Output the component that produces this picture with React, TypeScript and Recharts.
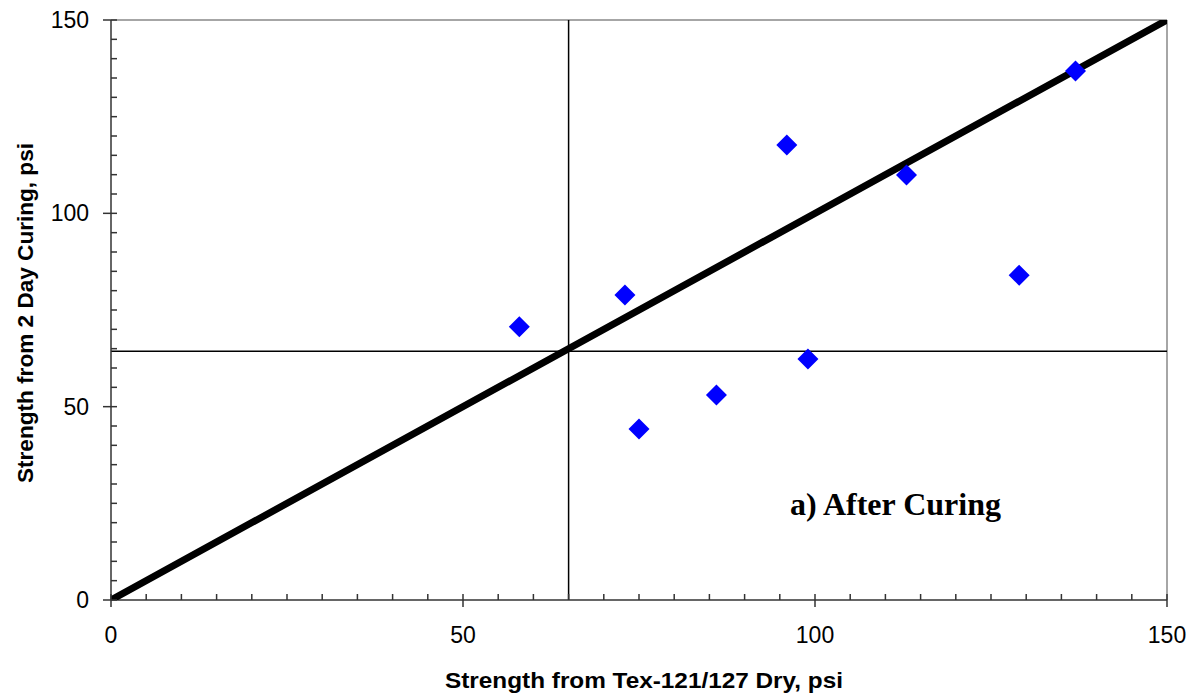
import React from 'react';
import {
  ComposedChart,
  Scatter,
  XAxis,
  YAxis,
  ReferenceLine,
} from 'recharts';

// strength pairs
const dryStrength = [58, 73, 75, 86, 96, 99, 113, 129, 137];
const curedStrength = [70.7, 78.9, 44.2, 53, 117.7, 62.3, 109.9, 84, 136.8];
const equalityLine = [0, 150];
const axisTicks = [0, 5, 10, 15, 20, 25, 30, 35, 40, 45, 50, 55, 60, 65, 70, 75, 80, 85, 90, 95, 100, 105, 110, 115, 120, 125, 130, 135, 140, 145, 150];
const dryThreshold = 65;
const curedThreshold = 64.3;

const points = dryStrength.map((x, i) => ({ x, y: curedStrength[i] }));
const linePoints = equalityLine.map((v) => ({ x: v, y: v }));

const AXIS = '#333';
const FONT = 'Liberation Sans, Arial, sans-serif';

const XTick = (props: any) => {
  const { x, y, payload } = props;
  const major = payload.value % 50 === 0;
  return (
    <g>
      {major ? (
        <>
          <line x1={x} x2={x} y1={y - 6} y2={y + 7} stroke={AXIS} strokeWidth={1.5} />
          <text x={x} y={y + 43} textAnchor="middle" fontFamily={FONT} fontSize={23} fill="#000">
            {payload.value}
          </text>
        </>
      ) : (
        <line x1={x} x2={x} y1={y} y2={y - 6} stroke={AXIS} strokeWidth={1.5} />
      )}
    </g>
  );
};

const YTick = (props: any) => {
  const { x, y, payload } = props;
  const major = payload.value % 50 === 0;
  return (
    <g>
      {major ? (
        <>
          <line x1={x - 8} x2={x + 6} y1={y} y2={y} stroke={AXIS} strokeWidth={1.5} />
          <text x={x - 22} y={y + 8} textAnchor="end" fontFamily={FONT} fontSize={23} fill="#000">
            {payload.value}
          </text>
        </>
      ) : (
        <line x1={x} x2={x + 6} y1={y} y2={y} stroke={AXIS} strokeWidth={1.5} />
      )}
    </g>
  );
};

const Diamond = (props: any) => {
  const { cx, cy } = props;
  const r = 10.5;
  return (
    <polygon
      points={`${cx},${cy - r} ${cx + r},${cy} ${cx},${cy + r} ${cx - r},${cy}`}
      fill="#0000FF"
    />
  );
};

export default function App() {
  return (
    <div style={{ position: 'absolute', left: 0, top: 0, width: 1195, height: 698, background: '#fff' }}>
      <ComposedChart
        width={1195}
        height={698}
        margin={{ top: 20, right: 28, left: 0, bottom: 0 }}
      >
        <XAxis
          type="number"
          dataKey="x"
          domain={[0, 150]}
          ticks={axisTicks}
          interval={0}
          tickSize={0}
          tickMargin={0}
          tickLine={false}
          tick={<XTick />}
          height={98}
          stroke={AXIS}
          strokeWidth={1.5}
          allowDataOverflow
        />
        <YAxis
          type="number"
          dataKey="y"
          domain={[0, 150]}
          ticks={axisTicks}
          interval={0}
          tickSize={0}
          tickMargin={0}
          tickLine={false}
          tick={<YTick />}
          width={111}
          stroke={AXIS}
          strokeWidth={1.5}
          allowDataOverflow
        />
        <ReferenceLine y={150} stroke="#888" strokeWidth={1.5} />
        <ReferenceLine x={150} stroke="#888" strokeWidth={1.5} />
        <ReferenceLine x={dryThreshold} stroke="#000" strokeWidth={1.5} />
        <ReferenceLine y={curedThreshold} stroke="#000" strokeWidth={1.5} />
        <Scatter
          data={linePoints}
          line={{ stroke: '#000', strokeWidth: 7, strokeLinecap: 'round' }}
          shape={() => null}
          isAnimationActive={false}
        />
        <Scatter data={points} shape={<Diamond />} isAnimationActive={false} />
        <text
          x={644}
          y={688}
          textAnchor="middle"
          fontFamily={FONT}
          fontWeight="bold"
          fontSize={22}
          textLength={398}
          lengthAdjust="spacingAndGlyphs"
          fill="#000"
        >
          Strength from Tex-121/127 Dry, psi
        </text>
        <text
          x={33}
          y={313}
          textAnchor="middle"
          fontFamily={FONT}
          fontWeight="bold"
          fontSize={22}
          textLength={340}
          lengthAdjust="spacingAndGlyphs"
          fill="#000"
          transform="rotate(-90 33 313)"
        >
          Strength from 2 Day Curing, psi
        </text>
        <text x={790} y={515} fontFamily="Liberation Serif, Times New Roman, serif" fontWeight="bold" fontSize={32} fill="#000">
          a) After Curing
        </text>
      </ComposedChart>
    </div>
  );
}
